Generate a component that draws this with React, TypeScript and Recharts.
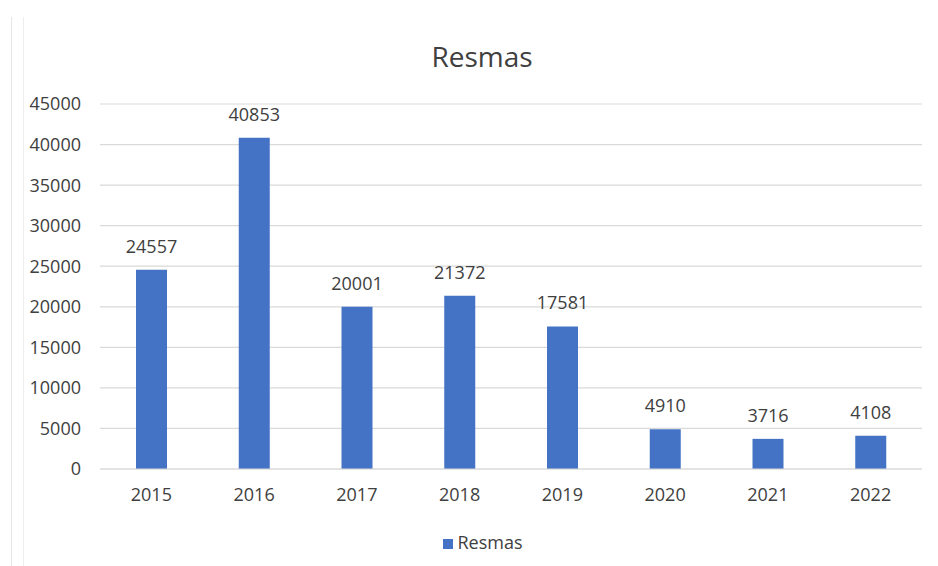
import React from 'react';
import { BarChart, Bar, XAxis, YAxis, CartesianGrid, Legend, LabelList } from 'recharts';

const years = ['2015', '2016', '2017', '2018', '2019', '2020', '2021', '2022'];
const resmas = [24557, 40853, 20001, 21372, 17581, 4910, 3716, 4108];
const yTicks = [0, 5000, 10000, 15000, 20000, 25000, 30000, 35000, 40000, 45000];

const data = years.map((y, i) => ({ year: y, Resmas: resmas[i] }));

const FONT = '"Open Sans", "Noto Sans", sans-serif';

export default function App() {
  return (
    <div style={{ position: 'absolute', left: 0, top: 0, width: 938, height: 566, background: '#ffffff', fontFamily: FONT }}>
      <div style={{ position: 'absolute', left: 11, top: 17, width: 1, height: 549, background: '#e6e6e6' }} />
      <div style={{ position: 'absolute', left: 23, top: 17, width: 1, height: 549, background: '#eeeeee' }} />
      <div style={{ position: 'absolute', left: 382, width: 200, top: 38, textAlign: 'center', fontSize: 28, color: '#404040', lineHeight: '36px' }}>Resmas</div>
      <BarChart width={938} height={566} data={data} margin={{ top: 104, right: 16, left: 0, bottom: 0 }}>
        <CartesianGrid vertical={false} stroke="#d9d9d9" strokeWidth={1.2} />
        <XAxis
          dataKey="year"
          height={73}
          tickLine={false}
          axisLine={{ stroke: '#d9d9d9', strokeWidth: 1.2 }}
          tickMargin={13}
          tick={{ fill: '#404040', fontSize: 18, fontFamily: FONT }}
        />
        <YAxis
          width={100}
          domain={[0, 45000]}
          ticks={yTicks}
          axisLine={false}
          tickLine={false}
          tickMargin={13}
          tick={{ fill: '#404040', fontSize: 18, fontFamily: FONT }}
        />
        <Legend
          verticalAlign="bottom"
          iconType="square"
          iconSize={10}
          wrapperStyle={{ bottom: 12, left: 27, fontFamily: FONT, fontSize: 18 }}
          formatter={(v) => <span style={{ color: '#404040' }}>{v}</span>}
        />
        <Bar dataKey="Resmas" fill="#4472C4" barSize={31} isAnimationActive={false}>
          <LabelList dataKey="Resmas" position="top" offset={17} fill="#404040" fontSize={18} fontFamily={FONT} />
        </Bar>
      </BarChart>
    </div>
  );
}
